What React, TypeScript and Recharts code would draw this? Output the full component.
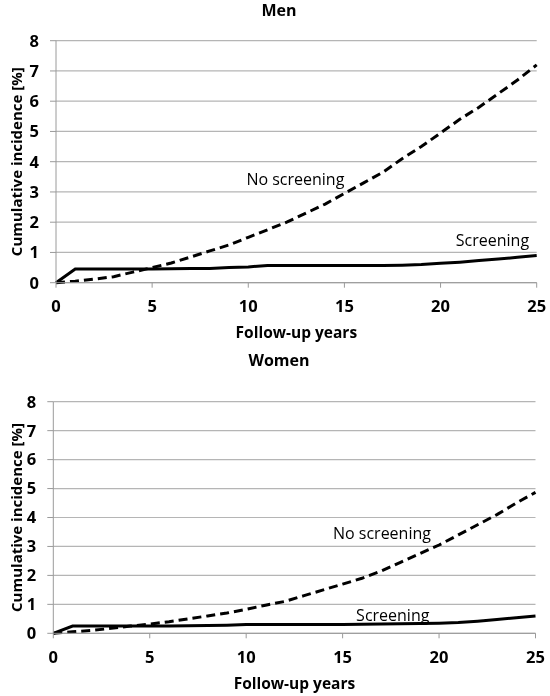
import { CartesianGrid, Line, LineChart, ReferenceDot, XAxis, YAxis } from 'recharts';

const YEARS = [0, 1, 2, 3, 4, 5, 6, 7, 8, 9, 10, 11, 12, 13, 14, 15, 16, 17, 18, 19, 20, 21, 22, 23, 24, 25];

const MEN_NO_SCREENING = [
  0, 0.05, 0.12, 0.2, 0.35, 0.5, 0.65, 0.85, 1.05, 1.25, 1.5, 1.75, 2.0, 2.3, 2.6, 2.95, 3.3, 3.65, 4.1,
  4.5, 4.95, 5.4, 5.8, 6.25, 6.7, 7.2,
];
const MEN_SCREENING = [
  0, 0.45, 0.45, 0.45, 0.45, 0.45, 0.46, 0.47, 0.47, 0.5, 0.52, 0.57, 0.57, 0.57, 0.57, 0.57, 0.57, 0.57,
  0.58, 0.6, 0.64, 0.68, 0.73, 0.78, 0.84, 0.9,
];

const WOMEN_NO_SCREENING = [
  0, 0.05, 0.1, 0.17, 0.25, 0.32, 0.4, 0.5, 0.6, 0.7, 0.83, 0.97, 1.1, 1.3, 1.5, 1.7, 1.9, 2.15, 2.45,
  2.75, 3.05, 3.4, 3.75, 4.1, 4.5, 4.87,
];
const WOMEN_SCREENING = [
  0, 0.25, 0.25, 0.25, 0.25, 0.25, 0.25, 0.26, 0.27, 0.28, 0.3, 0.3, 0.3, 0.3, 0.3, 0.3, 0.31, 0.32, 0.33,
  0.34, 0.35, 0.37, 0.42, 0.48, 0.54, 0.6,
];

const X_TICKS = [0, 5, 10, 15, 20, 25];
const Y_TICKS = [0, 1, 2, 3, 4, 5, 6, 7, 8];

const FONT = '"Open Sans", sans-serif';
const AXIS_GREY = '#9a9a9a';
const GRID_GREY = '#b5b5b5';

type Note = { label: string; x: number; y: number };

type PanelProps = {
  title: string;
  noScreening: number[];
  screening: number[];
  notes: Note[];
  top: number;
  plotTop: number;
  plotLeft: number;
  plotRight: number;
  plotBottom: number;
  height: number;
};

function Panel({ title, noScreening, screening, notes, top, plotTop, plotLeft, plotRight, plotBottom, height }: PanelProps) {
  const data = YEARS.map((year, i) => ({
    year,
    noScreening: noScreening[i],
    screening: screening[i],
  }));

  return (
    <div style={{ position: 'absolute', left: 0, top, width: 550, height }}>
      <div
        style={{
          position: 'absolute',
          left: 0,
          width: 558,
          top: 0,
          textAlign: 'center',
          fontFamily: FONT,
          fontWeight: 700,
          fontSize: 16,
          lineHeight: '20px',
        }}
      >
        {title}
      </div>
      <LineChart
        width={550}
        height={height}
        data={data}
        margin={{ top: plotTop, right: 550 - plotRight, left: 0, bottom: 0 }}
        style={{ fontFamily: FONT }}
      >
        <CartesianGrid vertical={false} stroke={GRID_GREY} strokeWidth={1.2} />
        <XAxis
          dataKey="year"
          type="number"
          domain={[0, 25]}
          ticks={X_TICKS}
          height={height - plotBottom}
          stroke={AXIS_GREY}
          tickSize={5}
          tickMargin={13}
          tick={{ fill: '#000', fontSize: 16.5, fontWeight: 700 }}
          label={{
            value: 'Follow-up years',
            position: 'insideBottom',
            offset: 7,
            fill: '#000',
            fontSize: 15.5,
            fontWeight: 700,
          }}
        />
        <YAxis
          type="number"
          domain={[0, 8]}
          ticks={Y_TICKS}
          width={plotLeft}
          stroke={AXIS_GREY}
          tickSize={6}
          tickMargin={11}
          tick={{ fill: '#000', fontSize: 16.5, fontWeight: 700 }}
          label={{
            value: 'Cumulative incidence [%]',
            angle: -90,
            position: 'insideLeft',
            offset: 17,
            fill: '#000',
            fontSize: 15,
            fontWeight: 700,
            style: { textAnchor: 'middle' },
          }}
        />
        <Line
          type="linear"
          dataKey="noScreening"
          stroke="#000"
          strokeWidth={3}
          strokeDasharray="9 5"
          dot={false}
          isAnimationActive={false}
        />
        <Line
          type="linear"
          dataKey="screening"
          stroke="#000"
          strokeWidth={3}
          dot={false}
          isAnimationActive={false}
        />
        {notes.map((n) => (
          <ReferenceDot
            key={n.label}
            x={n.x}
            y={n.y}
            r={0}
            stroke="none"
            fill="none"
            label={{ value: n.label, position: 'center', fill: '#000', fontSize: 16 }}
          />
        ))}
      </LineChart>
    </div>
  );
}

export default function App() {
  return (
    <div style={{ position: 'fixed', left: 0, top: 0, width: 550, height: 696, background: '#fff' }}>
      <Panel
        title="Men"
        noScreening={MEN_NO_SCREENING}
        screening={MEN_SCREENING}
        notes={[
          { label: 'No screening', x: 12.45, y: 3.43 },
          { label: 'Screening', x: 22.7, y: 1.41 },
        ]}
        top={0}
        plotTop={40.7}
        plotLeft={56}
        plotRight={536.7}
        plotBottom={282.7}
        height={345}
      />
      <Panel
        title="Women"
        noScreening={WOMEN_NO_SCREENING}
        screening={WOMEN_SCREENING}
        notes={[
          { label: 'No screening', x: 17.04, y: 3.47 },
          { label: 'Screening', x: 17.6, y: 0.63 },
        ]}
        top={350}
        plotTop={51.7}
        plotLeft={53.3}
        plotRight={535.5}
        plotBottom={283.3}
        height={346}
      />
    </div>
  );
}
